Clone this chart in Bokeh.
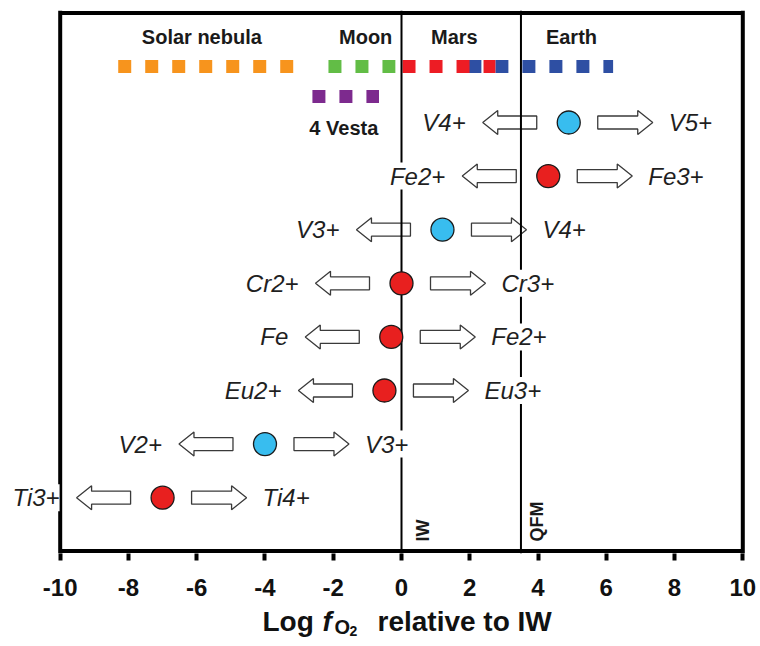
import math
from bokeh.plotting import figure
from bokeh.models import Range1d, FixedTicker
from bokeh.layouts import column
from bokeh.core.properties import value
from bokeh.embed import file_html
from bokeh.resources import INLINE

# ---------------- data ----------------
reduced = ["V4+", "Fe2+", "V3+", "Cr2+", "Fe", "Eu2+", "V2+", "Ti3+"]
oxidized = ["V5+", "Fe3+", "V4+", "Cr3+", "Fe2+", "Eu3+", "V3+", "Ti4+"]
log_fo2 = [4.9, 4.3, 1.2, 0.0, -0.3, -0.5, -4.0, -7.0]
element = ["V", "Fe", "V", "Cr", "Fe", "Eu", "V", "Ti"]

bodies = ["Solar nebula", "Moon", "Earth", "Mars", "4 Vesta"]
body_low = [-8.3, -2.14, 1.96, 0.03, -2.61]
body_high = [-3.16, -0.18, 6.2, 2.75, -0.66]

buffers = ["IW", "QFM"]
buffer_fo2 = [0.0, 3.5]

x_ticks = [-10, -8, -6, -4, -2, 0, 2, 4, 6, 8, 10]
x_min, x_max = -10, 10

# ---------------- styling ----------------
FONT = value("Liberation Sans")
RED = "#e8201f"
CYAN = "#38bdef"
elem_color = {"V": CYAN, "Fe": RED, "Cr": RED, "Eu": RED, "Ti": RED}
body_color = {"Solar nebula": "#f7941d", "Moon": "#62bd46", "Earth": "#2e4fa3",
              "Mars": "#ed1c24", "4 Vesta": "#7d2a8e"}
body_row_y = {"Solar nebula": 66, "Moon": 66, "Earth": 66, "Mars": 66, "4 Vesta": 96}
body_label_pos = {"Solar nebula": (-5.85, 36), "Moon": (-1.05, 36), "Mars": (1.55, 36),
                  "Earth": (4.98, 36), "4 Vesta": (-1.69, 127)}

W = 758
H1, H2 = 606, 38
FL, FR = 4, 13              # frame borders left / right
PPU = 682.6 / 20.0          # pixels per x unit
X0_PAGE = 59.7              # page x of x = -10
x_start = x_min - (X0_PAGE - FL) / PPU
x_end = x_max + ((W - FR) - (X0_PAGE + 20 * PPU)) / PPU
xr = Range1d(x_start, x_end)


def px(d):
    return d / PPU


p = figure(width=W, height=H1, output_backend="svg", toolbar_location=None,
           x_range=xr, y_range=Range1d(553, 10),
           y_axis_location=None, title=None,
           min_border_left=FL, min_border_right=FR, min_border_top=10, min_border_bottom=53)
p.grid.visible = False
p.outline_line_color = None
p.background_fill_color = "white"
p.border_fill_color = "white"

# x axis: ticks + labels only (line drawn as frame)
ax = p.xaxis[0]
ax.ticker = FixedTicker(ticks=x_ticks)
ax.major_label_overrides = {t: str(t) for t in x_ticks}
ax.axis_line_color = None
ax.major_tick_line_width = 4
ax.major_tick_line_color = "black"
ax.major_tick_in = 0
ax.major_tick_out = 7
ax.minor_tick_line_color = None
ax.major_label_text_font = "Liberation Sans"
ax.major_label_text_font_style = "bold"
ax.major_label_text_font_size = "24px"
ax.major_label_text_color = "#111111"
ax.major_label_standoff = 18

# body ranges (dashed square strips)
for b in bodies:
    i = bodies.index(b)
    y = body_row_y[b]
    p.segment(x0=[body_low[i]], y0=[y], x1=[body_high[i]], y1=[y],
              line_color=body_color[b], line_width=13, line_dash="13 14", line_cap="butt")

for b in bodies:
    lx, ly = body_label_pos[b]
    p.text(x=[lx], y=[ly], text=[b], text_font=FONT, text_font_style="bold",
           text_font_size="20px", text_align="center", text_baseline="middle",
           text_color="#1a1a1a")

# frame
p.segment(x0=[x_min, x_min, x_max, x_min], y0=[553, 12.5, 553, 550.5],
          x1=[x_min, x_max, x_max, x_max], y1=[10, 12.5, 10, 550.5],
          line_color="black", line_width=4)

# rows
row_y = [122 + 53.6 * i for i in range(len(reduced))]

axs, ays = [], []
for cx, y in zip(log_fo2, row_y):
    tail = cx - px(32)
    tip = cx - px(86)
    hb = tip + px(15)
    axs.append([tip, hb, hb, tail, tail, hb, hb])
    ays.append([y, y - 12, y - 6.5, y - 6.5, y + 6.5, y + 6.5, y + 12])
    tail = cx + px(29)
    tip = cx + px(84)
    hb = tip - px(15)
    axs.append([tip, hb, hb, tail, tail, hb, hb])
    ays.append([y, y - 12, y - 6.5, y - 6.5, y + 6.5, y + 6.5, y + 12])
p.patches(xs=axs, ys=ays, fill_color="white", line_color="#3a3a3a", line_width=1.3)

# buffer lines
p.segment(x0=buffer_fo2, y0=[553] * len(buffers), x1=buffer_fo2, y1=[10] * len(buffers),
          line_color="black", line_width=2)
buffer_dx = [21, 16]
p.text(x=[bx + px(d) for bx, d in zip(buffer_fo2, buffer_dx)], y=[541] * len(buffers),
       text=buffers, angle=math.pi / 2, text_font=FONT, text_font_style="bold",
       text_font_size="18px", text_align="left", text_baseline="middle", text_color="#1a1a1a")

# markers
p.scatter(x=log_fo2, y=row_y, size=23, fill_color=[elem_color[e] for e in element],
          line_color="#1a1a1a", line_width=1.3)

# species labels
left_x = [cx - px(86) - px(17) for cx in log_fo2]
right_x = [cx + px(84) + px(16) for cx in log_fo2]
p.text(x=left_x, y=row_y, text=reduced, text_font=FONT, text_font_style="italic",
       text_font_size="24px", text_align="right", text_baseline="middle",
       text_color="#1f1f1f", background_fill_color="white")
p.text(x=right_x, y=row_y, text=oxidized, text_font=FONT, text_font_style="italic",
       text_font_size="24px", text_align="left", text_baseline="middle",
       text_color="#1f1f1f", background_fill_color="white")

# ---------------- axis title strip ----------------
p2 = figure(width=W, height=H2, output_backend="svg", toolbar_location=None,
            x_range=xr, y_range=Range1d(H1 + H2, H1),
            x_axis_location=None, y_axis_location=None, title=None,
            min_border_left=FL, min_border_right=FR, min_border_top=0, min_border_bottom=0)
p2.grid.visible = False
p2.outline_line_color = None
p2.background_fill_color = "white"
p2.border_fill_color = "white"


def dx(page_x):
    return x_min + (page_x - X0_PAGE) / PPU


for txt, xp, yp, size, style in [("Log", 262, 621, "28px", "bold"),
                                 ("f", 322, 621, "28px", "bold italic"),
                                 ("O", 334, 626, "20px", "bold"),
                                 ("2", 349, 630, "14px", "bold"),
                                 ("relative to IW", 377, 621, "28px", "bold")]:
    p2.text(x=[dx(xp)], y=[yp], text=[txt], text_font=FONT, text_font_style=style,
            text_font_size=size, text_align="left", text_baseline="alphabetic",
            text_color="#111111")

layout = column(p, p2, spacing=0)
open("out.html", "w").write(file_html(layout, INLINE))
